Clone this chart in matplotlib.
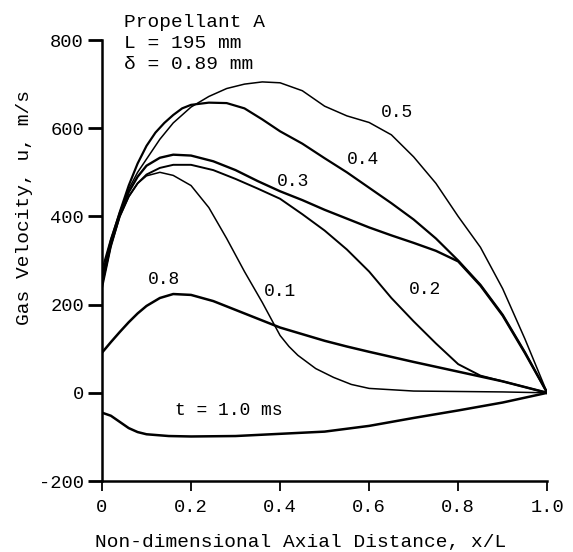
import matplotlib
matplotlib.use("Agg")
import matplotlib.pyplot as plt

# valori (x/L, u in m/s)
x_01 = [0, 0.02, 0.04, 0.06, 0.08, 0.10, 0.13, 0.16, 0.20, 0.24, 0.28, 0.32, 0.36, 0.40, 0.42, 0.44, 0.48, 0.52, 0.56, 0.60, 0.70, 0.80, 0.90, 1.0]
u_01 = [235, 330, 400, 445, 475, 492, 500, 493, 470, 420, 350, 275, 205, 130, 105, 85, 55, 35, 19, 10, 4, 3, 2, 0]

x_02 = [0, 0.02, 0.04, 0.06, 0.08, 0.10, 0.13, 0.16, 0.20, 0.25, 0.30, 0.35, 0.40, 0.45, 0.50, 0.55, 0.60, 0.65, 0.70, 0.75, 0.80, 0.85, 0.90, 0.95, 1.0]
u_02 = [245, 335, 400, 445, 475, 495, 510, 517, 517, 505, 485, 463, 440, 405, 368, 325, 275, 215, 162, 112, 65, 39, 26, 13, 0]

x_03 = [0, 0.02, 0.04, 0.06, 0.08, 0.10, 0.13, 0.16, 0.20, 0.25, 0.30, 0.35, 0.40, 0.45, 0.50, 0.55, 0.60, 0.65, 0.70, 0.75, 0.80, 0.85, 0.90, 0.95, 1.0]
u_03 = [250, 340, 405, 455, 490, 515, 533, 540, 538, 525, 505, 480, 457, 437, 415, 395, 375, 357, 340, 322, 298, 243, 175, 90, 0]

x_04 = [0, 0.02, 0.04, 0.06, 0.08, 0.10, 0.12, 0.14, 0.16, 0.18, 0.20, 0.24, 0.28, 0.32, 0.36, 0.40, 0.45, 0.50, 0.55, 0.60, 0.65, 0.70, 0.75, 0.80, 0.85, 0.90, 0.95, 1.0]
u_04 = [265, 345, 410, 470, 520, 560, 590, 612, 630, 645, 653, 658, 657, 645, 620, 593, 565, 532, 500, 465, 430, 393, 350, 300, 245, 177, 92, 0]

x_05 = [0, 0.02, 0.04, 0.06, 0.08, 0.10, 0.13, 0.16, 0.20, 0.24, 0.28, 0.32, 0.36, 0.40, 0.45, 0.50, 0.55, 0.60, 0.65, 0.70, 0.75, 0.80, 0.85, 0.90, 0.95, 1.0]
u_05 = [280, 350, 410, 462, 500, 530, 575, 612, 648, 672, 690, 700, 705, 703, 685, 650, 628, 613, 585, 535, 475, 400, 330, 236, 122, 0]

x_08 = [0, 0.02, 0.04, 0.06, 0.08, 0.10, 0.13, 0.16, 0.20, 0.25, 0.30, 0.35, 0.40, 0.45, 0.50, 0.55, 0.60, 0.70, 0.80, 0.90, 1.0]
u_08 = [91, 115, 138, 160, 180, 197, 215, 224, 222, 208, 188, 168, 148, 133, 118, 105, 93, 70, 48, 26, 0]

x_10 = [0, 0.02, 0.04, 0.06, 0.08, 0.10, 0.15, 0.20, 0.30, 0.40, 0.50, 0.60, 0.70, 0.80, 0.90, 1.0]
u_10 = [-45, -52, -66, -80, -89, -94, -98, -99, -98, -93, -88, -75, -57, -40, -22, 0]

etichete = ["0.1", "0.2", "0.3", "0.4", "0.5", "0.8", "t = 1.0 ms"]
pozitii_x = [0.40, 0.725, 0.43, 0.587, 0.663, 0.14, 0.285]
pozitii_u = [230, 234, 480, 530, 636, 257, -39]

font = "Liberation Mono"

fig = plt.figure(figsize=(5.73, 5.52), dpi=100)
ax = fig.add_axes([0.178, 0.1286, 0.777, 0.7989])

curbe = [(x_01, u_01, 1.1), (x_02, u_02, 1.4), (x_03, u_03, 1.7), (x_04, u_04, 1.6),
         (x_05, u_05, 1.1), (x_08, u_08, 1.8), (x_10, u_10, 1.8)]
for xs, us, lw in curbe:
    ax.plot(xs, us, color="black", lw=lw, solid_joinstyle="round")

for text, xt, ut in zip(etichete, pozitii_x, pozitii_u):
    ax.text(xt, ut, text, fontsize=13, family=font, ha="center", va="center")

ax.set_xlim(0, 1.0)
ax.set_ylim(-200, 800)
ax.set_xticks([0, 0.2, 0.4, 0.6, 0.8, 1.0])
ax.set_xticklabels(["0", "0.2", "0.4", "0.6", "0.8", "1.0"])
ax.set_yticks([-200, 0, 200, 400, 600, 800])
ax.set_yticklabels(["-200", "0", "200", "400", "600", "800"])

for s in ["top", "right"]:
    ax.spines[s].set_visible(False)
for s in ["left", "bottom"]:
    ax.spines[s].set_linewidth(1.8)

ax.tick_params(axis="y", direction="out", length=10, width=2, pad=3)
ax.tick_params(axis="x", direction="out", length=7, width=1.3, pad=6)
for lab in ax.get_xticklabels() + ax.get_yticklabels():
    lab.set_family(font)
    lab.set_fontsize(13.5)

ax.text(0.447, -0.14, "Non-dimensional Axial Distance, x/L", transform=ax.transAxes,
        fontsize=14, family=font, ha="center", va="center")
ax.text(-0.175, 0.62, "Gas Velocity, u, m/s", transform=ax.transAxes, rotation=90,
        fontsize=14, family=font, ha="center", va="center")

# date despre proba
ax.text(0.05, 0.993, "Propellant A\nL = 195 mm\nδ = 0.89 mm", transform=ax.transAxes,
        fontsize=14, family=[font, "DejaVu Sans Mono"], ha="left", va="center", linespacing=1.3)

fig.savefig("out.png", dpi=100)
